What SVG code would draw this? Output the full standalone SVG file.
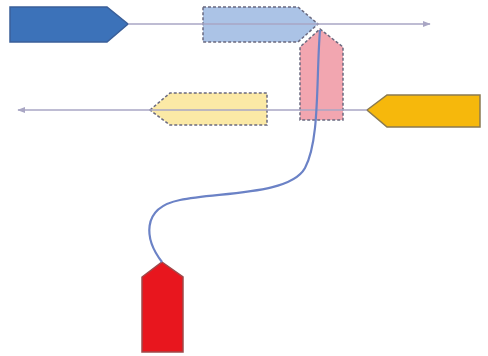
<svg xmlns="http://www.w3.org/2000/svg" width="488" height="356" viewBox="0 0 488 356">
<defs>
<style>
.solid{stroke-width:1.5;stroke-linejoin:miter}
.dash{stroke:#6a6a80;stroke-width:1.5;stroke-dasharray:3 2}
.line{fill:none;stroke:#a9a6c4;stroke-width:1.3}
.curve{fill:none;stroke:#6b82c6;stroke-width:2.2}
</style>
<marker id="ah" viewBox="0 0 10 10" refX="9" refY="5" markerWidth="6" markerHeight="6" orient="auto-start-reverse">
<path d="M0,1 L10,5 L0,9 Z" fill="#a9a6c4"/>
</marker>
</defs>
<rect width="488" height="356" fill="#ffffff"/>
<g id="node-blue">
<polygon class="solid" points="10,7 107,7 128,24 107,42 10,42" fill="#3c72b9" stroke="#3a5f99"/>
</g>
<g id="node-lightblue">
<polygon class="dash" points="203,7 298,7 318,24 298,42 203,42" fill="#abc3e6"/>
</g>
<g id="node-pink">
<polygon class="dash" points="320,29 343,47 343,120 300,120 300,47" fill="#f2a6b0"/>
</g>
<g id="node-lightyellow">
<polygon class="dash" points="150,110 170,93 267,93 267,125 170,125" fill="#fbe9a6"/>
</g>
<g id="node-yellow">
<polygon class="solid" points="367,110 387,95 480,95 480,127 387,127" fill="#f6b80c" stroke="#8a7a50"/>
</g>
<g id="node-red">
<polygon class="solid" points="162,262 183,277 183,352 142,352 142,277" fill="#e8161e" stroke="#a0484a"/>
</g>
<g id="connectors">
<line class="line" x1="128" y1="24" x2="430" y2="24" marker-end="url(#ah)"/>
<line class="line" x1="367" y1="110" x2="18" y2="110" marker-end="url(#ah)"/>
<path class="curve" d="M320,30 C316,80 320,140 305,168 C290,195 220,192 180,200 C140,208 145,240 162,262"/>
</g>
</svg>
